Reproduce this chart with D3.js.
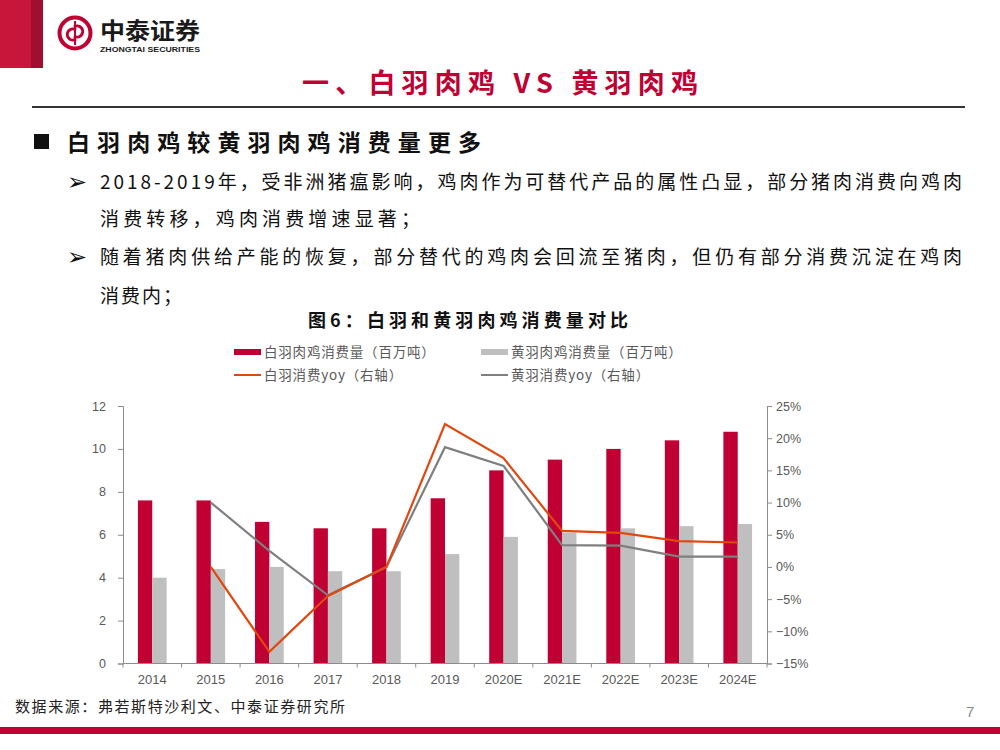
<!DOCTYPE html>
<html>
<head>
<meta charset="utf-8">
<style>
  body { margin: 0; background: #fff; }
  svg text { font-family: "Noto Sans CJK SC", "DejaVu Sans", sans-serif; }
</style>
</head>
<body>
<div id="chart"></div>

<script src="https://d3js.org/d3.v7.min.js"></script>

<script>
    // data
    var years = ["2014","2015","2016","2017","2018","2019","2020E","2021E","2022E","2023E","2024E"];
    var whiteVol = [7.6, 7.6, 6.6, 6.3, 6.3, 7.7, 9.0, 9.5, 10.0, 10.4, 10.8];
    var yellowVol = [4.0, 4.4, 4.5, 4.3, 4.3, 5.1, 5.9, 6.1, 6.3, 6.4, 6.5];
    var whiteYoy = [null, 0.000, -0.132, -0.045, 0.000, 0.222, 0.169, 0.056, 0.053, 0.040, 0.038];
    var yellowYoy = [null, 0.100, 0.025, -0.044, 0.000, 0.186, 0.157, 0.034, 0.033, 0.016, 0.016];
    var leftTicks = [0, 2, 4, 6, 8, 10, 12];
    var rightTicks = [-0.15, -0.10, -0.05, 0, 0.05, 0.10, 0.15, 0.20, 0.25];

    var RED = "#C00033", GREY_BAR = "#BFBFBF", ORANGE = "#E2470F", GREY_LINE = "#7F7F7F";
    var AXIS = "#8C8C8C", LABEL = "#595959";

    var svg = d3.select("#chart").append("svg")
        .attr("width", 1000)
        .attr("height", 750);

    // ---- page header ----
    svg.append("rect").attr("x", 0).attr("y", 0).attr("width", 31).attr("height", 68).attr("fill", "#C8163A");
    svg.append("rect").attr("x", 31).attr("y", 0).attr("width", 12).attr("height", 68).attr("fill", "#A10F30");

    // logo mark
    var logo = svg.append("g").attr("transform", "translate(75,33)");
    logo.append("circle").attr("r", 15.5).attr("fill", "none").attr("stroke", RED).attr("stroke-width", 4);
    logo.append("path").attr("d", "M1,-3 A5.5,5.5 0 1 0 1,6").attr("fill", "none").attr("stroke", RED).attr("stroke-width", 3);
    logo.append("path").attr("d", "M-1,3 A5.5,5.5 0 1 0 -1,-6").attr("fill", "none").attr("stroke", RED).attr("stroke-width", 3);
    logo.append("line").attr("x1", 0).attr("x2", 0).attr("y1", -12).attr("y2", 12).attr("stroke", RED).attr("stroke-width", 2);

    svg.append("text").attr("x", 100).attr("y", 39).attr("font-size", 23).attr("font-weight", 700)
        .attr("fill", "#1a1a1a").attr("textLength", 100).attr("lengthAdjust", "spacingAndGlyphs").text("中泰证券");
    svg.append("text").attr("x", 100).attr("y", 52).attr("font-size", 7.5).attr("font-weight", 700)
        .style("font-family", "Liberation Sans, Arial, sans-serif")
        .attr("fill", "#1a1a1a").attr("textLength", 100).attr("lengthAdjust", "spacingAndGlyphs").text("ZHONGTAI SECURITIES");

    // slide title
    svg.append("text").attr("x", 500).attr("y", 93).attr("text-anchor", "middle")
        .attr("font-size", 27).attr("font-weight", 700).attr("fill", RED)
        .attr("textLength", 396).attr("lengthAdjust", "spacing")
        .text("一、白羽肉鸡 VS 黄羽肉鸡");
    svg.append("line").attr("x1", 32).attr("x2", 965).attr("y1", 107).attr("y2", 107)
        .attr("stroke", "#333").attr("stroke-width", 2);

    // section heading + bullets
    svg.append("rect").attr("x", 34).attr("y", 134).attr("width", 15).attr("height", 15).attr("fill", "#111");
    svg.append("text").attr("x", 67).attr("y", 151).attr("font-size", 23).attr("font-weight", 700).attr("fill", "#111")
        .attr("textLength", 414).attr("lengthAdjust", "spacing").text("白羽肉鸡较黄羽肉鸡消费量更多");

    var bullets = [
        {y: 189, arrow: true, w: 862, t: "2018-2019年，受非洲猪瘟影响，鸡肉作为可替代产品的属性凸显，部分猪肉消费向鸡肉"},
        {y: 226, arrow: false, w: 320, t: "消费转移，鸡肉消费增速显著；"},
        {y: 264, arrow: true, w: 862, t: "随着猪肉供给产能的恢复，部分替代的鸡肉会回流至猪肉，但仍有部分消费沉淀在鸡肉"},
        {y: 303, arrow: false, w: 82, t: "消费内；"}
    ];
    bullets.forEach(function(b) {
        if (b.arrow) {
            svg.append("text").attr("x", 67).attr("y", b.y + 1).attr("font-size", 24)
                .style("font-family", "DejaVu Sans").attr("fill", "#111").text("➢");
        }
        svg.append("text").attr("x", 100).attr("y", b.y).attr("font-size", 19).attr("fill", "#111")
            .attr("textLength", b.w).attr("lengthAdjust", "spacing").text(b.t);
    });

    // figure caption
    svg.append("text").attr("x", 468).attr("y", 327).attr("text-anchor", "middle")
        .attr("font-size", 18).attr("font-weight", 700).attr("fill", "#111")
        .attr("textLength", 320).attr("lengthAdjust", "spacing")
        .text("图6：白羽和黄羽肉鸡消费量对比");

    // ---- legend ----
    var legend = [
        {x: 234, y: 352, type: "bar", color: RED, label: "白羽肉鸡消费量（百万吨）"},
        {x: 481, y: 352, type: "bar", color: GREY_BAR, label: "黄羽肉鸡消费量（百万吨）"},
        {x: 234, y: 375, type: "line", color: ORANGE, label: "白羽消费yoy（右轴）"},
        {x: 481, y: 375, type: "line", color: GREY_LINE, label: "黄羽消费yoy（右轴）"}
    ];
    legend.forEach(function(l) {
        if (l.type === "bar") {
            svg.append("rect").attr("x", l.x).attr("y", l.y - 3).attr("width", 27).attr("height", 6).attr("fill", l.color);
        } else {
            svg.append("line").attr("x1", l.x).attr("x2", l.x + 27).attr("y1", l.y).attr("y2", l.y)
                .attr("stroke", l.color).attr("stroke-width", 2);
        }
        svg.append("text").attr("x", l.x + 30).attr("y", l.y + 5).attr("font-size", 13.5)
            .attr("fill", LABEL).style("letter-spacing", "0.8px").text(l.label);
    });

    // ---- chart ----
    var plotLeft = 123, plotRight = 767, plotBottom = 663.5, plotTop = 406;

    var x0 = d3.scaleBand().domain(years).range([plotLeft, plotRight]).paddingInner(0.51).paddingOuter(0.255);
    var x1 = d3.scaleBand().domain(["white", "yellow"]).range([0, x0.bandwidth()]);
    var yL = d3.scaleLinear().domain([0, 12]).range([plotBottom, plotTop]);
    var yR = d3.scaleLinear().domain([-0.15, 0.25]).range([plotBottom, plotTop]);

    var rows = years.map(function(y, i) {
        return {year: y, white: whiteVol[i], yellow: yellowVol[i], wy: whiteYoy[i], yy: yellowYoy[i]};
    });

    var groups = svg.append("g").selectAll("g").data(rows).enter().append("g")
        .attr("transform", function(d) { return "translate(" + x0(d.year) + ",0)"; });
    groups.append("rect")
        .attr("x", x1("white")).attr("width", x1.bandwidth())
        .attr("y", function(d) { return yL(d.white); })
        .attr("height", function(d) { return yL(0) - yL(d.white); })
        .attr("fill", RED);
    groups.append("rect")
        .attr("x", x1("yellow")).attr("width", x1.bandwidth())
        .attr("y", function(d) { return yL(d.yellow); })
        .attr("height", function(d) { return yL(0) - yL(d.yellow); })
        .attr("fill", GREY_BAR);

    // axes
    var leftAxis = svg.append("g").attr("transform", "translate(" + plotLeft + ",0)")
        .call(d3.axisLeft(yL).tickValues(leftTicks).tickSize(5).tickPadding(12).tickFormat(d3.format("d")));
    var rightAxis = svg.append("g").attr("transform", "translate(" + plotRight + ",0)")
        .call(d3.axisRight(yR).tickValues(rightTicks).tickSize(5).tickPadding(4).tickFormat(d3.format(".0%")));
    [leftAxis, rightAxis].forEach(function(a) {
        a.select(".domain").attr("stroke", AXIS);
        a.selectAll(".tick line").attr("stroke", AXIS);
        a.selectAll(".tick text").attr("fill", LABEL).attr("font-size", 12.5)
            .style("font-family", "Liberation Sans, Arial, sans-serif");
    });

    // category axis: ticks sit on band boundaries
    var xAxis = svg.append("g");
    xAxis.append("line").attr("x1", plotLeft).attr("x2", plotRight).attr("y1", plotBottom).attr("y2", plotBottom).attr("stroke", AXIS);
    xAxis.selectAll(".bt").data(d3.range(years.length + 1)).enter().append("line")
        .attr("x1", function(i) { return plotLeft + i * x0.step(); })
        .attr("x2", function(i) { return plotLeft + i * x0.step(); })
        .attr("y1", plotBottom).attr("y2", plotBottom + 4).attr("stroke", AXIS);
    xAxis.selectAll("text").data(years).enter().append("text")
        .attr("x", function(d) { return x0(d) + x0.bandwidth() / 2; })
        .attr("y", 684).attr("text-anchor", "middle").attr("font-size", 13)
        .style("font-family", "Liberation Sans, Arial, sans-serif")
        .attr("fill", LABEL).text(function(d) { return d; });

    // yoy lines on the right axis
    function yoyLine(key) {
        return d3.line()
            .defined(function(d) { return d[key] !== null; })
            .x(function(d) { return x0(d.year) + x0.bandwidth() / 2; })
            .y(function(d) { return yR(d[key]); });
    }
    svg.append("path").datum(rows).attr("d", yoyLine("yy"))
        .attr("fill", "none").attr("stroke", GREY_LINE).attr("stroke-width", 2.2);
    svg.append("path").datum(rows).attr("d", yoyLine("wy"))
        .attr("fill", "none").attr("stroke", ORANGE).attr("stroke-width", 2.2);

    // ---- footer ----
    svg.append("text").attr("x", 15).attr("y", 712).attr("font-size", 15).attr("fill", "#222")
        .attr("textLength", 330).attr("lengthAdjust", "spacing").text("数据来源：弗若斯特沙利文、中泰证券研究所");
    svg.append("text").attr("x", 966).attr("y", 717).attr("font-size", 15).attr("fill", "#8a8a8a")
        .style("font-family", "Liberation Sans, Arial, sans-serif").text("7");
    svg.append("rect").attr("x", 0).attr("y", 727).attr("width", 1000).attr("height", 7).attr("fill", RED);
</script>
</body>
</html>
